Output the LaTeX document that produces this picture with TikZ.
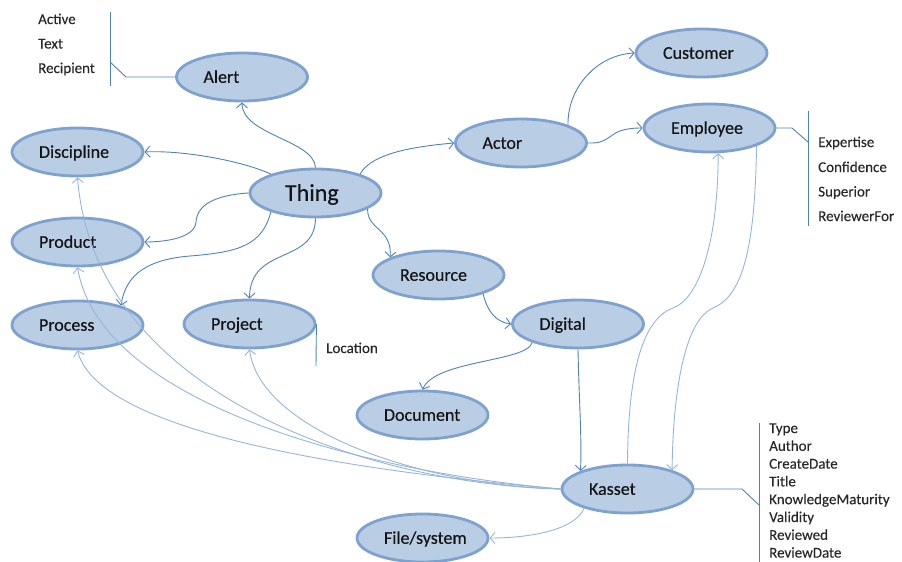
\documentclass[tikz,border=0pt]{standalone}
\usepackage{fontspec}
\setmainfont{Carlito}
\newfontfamily\entfont[FakeBold=0.35]{Carlito}
\newfontfamily\attrfont[FakeBold=0.15]{Carlito}
\usetikzlibrary{arrows.meta,shapes.geometric}
\definecolor{efill}{RGB}{185,205,229}
\definecolor{eline}{RGB}{126,161,206}
\definecolor{dline}{RGB}{79,129,189}
\definecolor{lline}{RGB}{150,181,220}
\definecolor{txt}{RGB}{20,20,20}
\definecolor{atxt}{RGB}{40,40,40}
\begin{document}
\begin{tikzpicture}[x=1pt,y=-1pt,
  ent/.style={ellipse, fill=efill, draw=eline, line width=2.8pt,
    minimum width=131pt, minimum height=48pt, inner sep=0pt,
    text width=77pt, align=left, text height=11.6pt, text depth=0pt,
    font=\entfont\fontsize{18}{21}\selectfont, text=txt},
  big/.style={text width=61pt, text height=15.5pt, font=\entfont\fontsize{24}{28}\selectfont},
  attr/.style={anchor=base west, inner sep=0pt, font=\attrfont\fontsize{15}{18}\selectfont, text=atxt},
  rel/.style={draw=dline, line width=0.9pt, -{Straight Barb[length=5pt,width=11pt]}},
  lrel/.style={draw=lline, line width=0.9pt, -{Straight Barb[length=5pt,width=11pt]}},
  brk/.style={draw=dline, line width=0.9pt}]
\useasboundingbox (0,0) rectangle (902,562);

% entities
\node[ent] (alert) at (242,77) {Alert};
\node[ent] (customer) at (701.5,53) {Customer};
\node[ent] (employee) at (709.5,128) {Employee};
\node[ent] (actor) at (521,143) {Actor};
\node[ent] (discipline) at (77.5,152) {Discipline};
\node[ent,big] (thing) at (315.5,193) {Thing};
\node[ent] (product) at (77.5,242) {Product};
\node[ent] (process) at (77.5,325) {Process};
\node[ent] (project) at (249.5,324) {Project};
\node[ent] (resource) at (438.5,275) {Resource};
\node[ent] (digital) at (578,324) {Digital};
\node[ent] (document) at (422.5,415) {Document};
\node[ent] (kasset) at (627.5,489) {Kasset};
\node[ent] (filesystem) at (422.5,538) {File/system};

% attribute lists
\node[attr] (aActive) at (38,24) {Active};
\node[attr] (aText) at (38,48.5) {Text};
\node[attr] (aRecipient) at (38,73) {Recipient};

\node[attr] (eExpertise) at (818,147) {Expertise};
\node[attr] (eConfidence) at (818,172) {Confidence};
\node[attr] (eSuperior) at (818,196.5) {Superior};
\node[attr] (eReviewerFor) at (818,221) {ReviewerFor};

\node[attr] (pLocation) at (326,353) {Location};

\node[attr] (kType) at (769,433) {Type};
\node[attr] (kAuthor) at (769,450.8) {Author};
\node[attr] (kCreateDate) at (769,468.6) {CreateDate};
\node[attr] (kTitle) at (769,486.4) {Title};
\node[attr] (kKM) at (769,504.2) {KnowledgeMaturity};
\node[attr] (kValidity) at (769,522) {Validity};
\node[attr] (kReviewed) at (769,539.8) {Reviewed};
\node[attr] (kReviewDate) at (769,557.6) {ReviewDate};

% brackets
\coordinate (abTop) at (110,12);
\coordinate (abBot) at (110,86);
\coordinate (abJoin) at (110,62);
\coordinate (abKnee) at (126,77);
\draw[brk] (abTop) -- (abBot);
\draw[brk] (alert.west) -- (abKnee) -- (abJoin);

\coordinate (ebTop) at (808,111);
\coordinate (ebBot) at (808,226);
\coordinate (ebJoin) at (808,142);
\coordinate (ebKnee) at (792,128);
\draw[brk] (ebTop) -- (ebBot);
\draw[brk] (employee.east) -- (ebKnee) -- (ebJoin);

\coordinate (pbBot) at (316,366);
\draw[brk] (project.east) -- (pbBot);

\coordinate (kbTop) at (759,423);
\coordinate (kbBot) at (759,566);
\coordinate (kbJoin) at (759,505);
\coordinate (kbKnee) at (742,489);
\draw[brk] (kbTop) -- (kbBot);
\draw[brk] (kasset.east) -- (kbKnee) -- (kbJoin);

% relations from Thing
\draw[rel] (thing.north) .. controls (314,140) and (242,135) .. (alert.south);
\draw[rel] (thing.157) .. controls (240,160) and (180,150) .. (discipline.east);
\draw[rel] (thing.west) .. controls (215,195) and (197,205) .. (196,222)
  .. controls (195,238) and (165,242) .. (product.east);
\draw[rel] (thing.203) .. controls (262,245) and (240,252) .. (190,256)
  .. controls (140,260) and (125,280) .. (process.24);
\draw[rel] (thing.south) .. controls (315,265) and (250,245) .. (project.north);
\draw[rel] (thing.-17) .. controls (367,230) and (392,228) .. (resource.160);
\draw[rel] (thing.23) .. controls (372,152) and (420,146) .. (actor.west);

% actor
\draw[rel] (actor.21) .. controls (567,90) and (595,55) .. (customer.west);
\draw[rel] (actor.east) .. controls (615,144) and (605,128) .. (employee.west);

% resource chain
\draw[rel] (resource.-23) .. controls (487,310) and (495,322) .. (digital.west);
\draw[rel] (digital.202) .. controls (527,362) and (435,360) .. (document.north);
\draw[rel] (digital.south) .. controls (579,400) and (582,440) .. (kasset.159);

% kasset light relations
\draw[lrel] (kasset.north) .. controls (628,380) and (640,320) .. (673,308)
  .. controls (700,298) and (718,240) .. (employee.-71);
\draw[lrel] (employee.-21) .. controls (755,240) and (745,295) .. (713,308)
  .. controls (685,320) and (673,390) .. (kasset.23);
\draw[lrel] (kasset.west) .. controls (380,485) and (95,400) .. (discipline.south);
\draw[lrel] (kasset.west) .. controls (350,470) and (100,400) .. (product.south);
\draw[lrel] (kasset.west) .. controls (400,475) and (100,440) .. (process.south);
\draw[lrel] (kasset.west) .. controls (420,485) and (260,430) .. (project.south);
\draw[lrel] (kasset.204) .. controls (575,530) and (530,538) .. (filesystem.east);
\end{tikzpicture}
\end{document}
